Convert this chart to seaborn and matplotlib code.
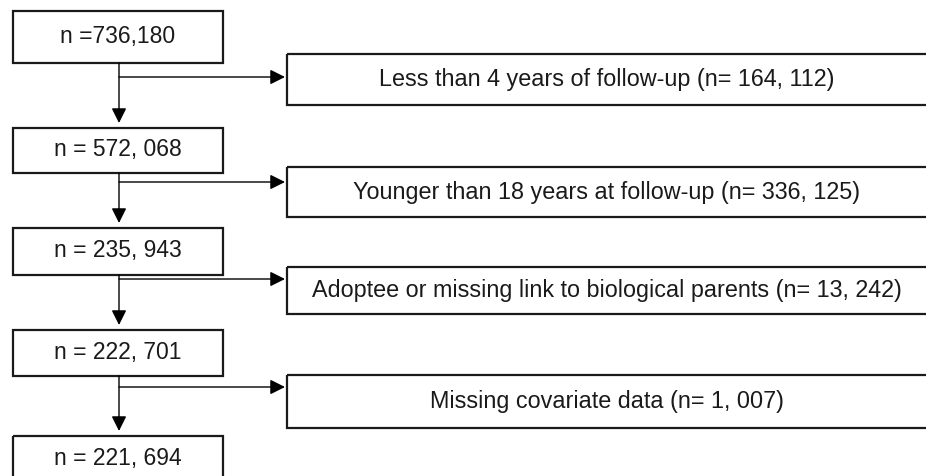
import matplotlib
matplotlib.use("Agg")
import matplotlib.pyplot as plt
from matplotlib.patches import Rectangle
import seaborn as sns

sns.set_theme(style="white")
plt.rcParams['font.family'] = ['Liberation Sans', 'DejaVu Sans']

# Data
main_labels = ["n =736,180", "n = 572, 068", "n = 235, 943", "n = 222, 701", "n = 221, 694"]
excl_labels = [
    "Less than 4 years of follow-up (n= 164, 112)",
    "Younger than 18 years at follow-up (n= 336, 125)",
    "Adoptee or missing link to biological parents (n= 13, 242)",
    "Missing covariate data (n= 1, 007)",
]

# Layout (pixel coordinates)
main_tops = [11, 128, 228, 330, 436]
main_bottoms = [63, 173, 275, 376, 484]
main_x0, main_x1 = 13, 223
main_text_x = 118
stem_x = 119
excl_tops = [54, 167, 267, 375]
excl_bottoms = [105, 217, 314, 428]
excl_x0, excl_x1 = 287, 928
excl_text_x = 607
branch_y = [77, 182, 279, 387]

W, H = 926, 476
fig = plt.figure(figsize=(W / 100, H / 100), dpi=100)
ax = fig.add_axes([0, 0, 1, 1])
ax.set_xlim(0, W)
ax.set_ylim(H, 0)
ax.axis("off")

for lab, t, b in zip(main_labels, main_tops, main_bottoms):
    ax.add_patch(Rectangle((main_x0, t), main_x1 - main_x0, b - t,
                           fill=False, ec="#1a1a1a", lw=1.6, clip_on=False))
    ax.text(main_text_x, (t + b) / 2 - 1, lab, ha="center", va="center",
            fontsize=16.5, color="#1a1a1a")

for lab, t, b in zip(excl_labels, excl_tops, excl_bottoms):
    ax.add_patch(Rectangle((excl_x0, t), excl_x1 - excl_x0, b - t,
                           fill=False, ec="#1a1a1a", lw=1.6))
    ax.text(excl_text_x, (t + b) / 2, lab, ha="center", va="center",
            fontsize=16.8, color="#1a1a1a")

arrow_kw = dict(arrowstyle="-|>,head_length=0.9,head_width=0.45",
                mutation_scale=10, color="black", lw=1.0, shrinkA=0, shrinkB=0)

for i in range(4):
    # vertical arrow to next box
    ax.annotate("", xy=(stem_x, main_tops[i + 1] - 5), xytext=(stem_x, main_bottoms[i]),
                arrowprops=arrow_kw)
    # horizontal branch to exclusion box
    ax.annotate("", xy=(excl_x0 - 2, branch_y[i]), xytext=(stem_x, branch_y[i]),
                arrowprops=arrow_kw)

fig.savefig("out.png", dpi=100)
